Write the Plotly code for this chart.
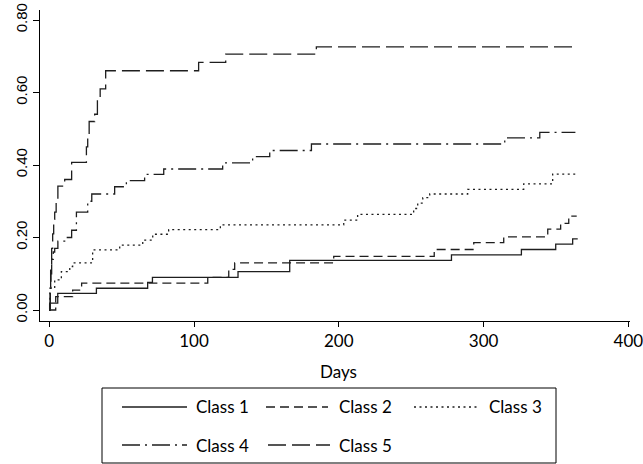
import plotly.graph_objects as go

# ---- data ----
days_c1 = [0, 0.3, 5.9, 32.6, 68.0, 71.3, 130.4, 166.1, 277.8, 326.1, 349.8, 361.5, 365.0]
cif_c1 = [0, 0.019, 0.046, 0.060, 0.076, 0.090, 0.106, 0.137, 0.152, 0.167, 0.182, 0.196, 0.196]

days_c2 = [0, 4.5, 16.2, 22.4, 109.5, 124.0, 128.1, 196.5, 265.9, 293.2, 313.9, 344.3, 353.2, 358.8, 364.3]
cif_c2 = [0, 0.037, 0.055, 0.074, 0.090, 0.112, 0.130, 0.148, 0.167, 0.186, 0.202, 0.223, 0.239, 0.259, 0.259]

days_c3 = [0, 0.5, 3.8, 8.4, 14.2, 16.2, 30.0, 48.7, 64.6, 71.5, 82.5, 118.2, 203.4, 213.0,
           251.7, 254.5, 258.0, 262.8, 289.0, 327.7, 347.7, 365.0]
cif_c3 = [0, 0.060, 0.083, 0.106, 0.120, 0.130, 0.166, 0.179, 0.193, 0.209, 0.222, 0.235, 0.248, 0.264,
          0.280, 0.295, 0.310, 0.320, 0.333, 0.348, 0.375, 0.375]

days_c4 = [0, 0.7, 1.2, 1.7, 2.8, 3.8, 6.0, 11.9, 15.5, 18.8, 26.6, 29.4, 45.2, 53.3, 65.9, 79.1,
           119.8, 140.5, 152.3, 181.1, 314.6, 338.8, 363.4]
cif_c4 = [0, 0.06, 0.10, 0.14, 0.16, 0.17, 0.19, 0.20, 0.22, 0.27, 0.30, 0.32, 0.34, 0.357, 0.374, 0.389,
          0.406, 0.423, 0.440, 0.458, 0.475, 0.490, 0.490]

days_c5 = [0, 0.7, 1.0, 1.7, 2.4, 3.1, 3.8, 4.8, 6.0, 10.7, 15.5, 25.7, 26.6, 27.6, 31.4, 33.3, 35.2,
           39.0, 103.2, 121.9, 184.5, 364.0]
cif_c5 = [0, 0.06, 0.12, 0.17, 0.21, 0.25, 0.27, 0.30, 0.342, 0.36, 0.407, 0.45, 0.48, 0.52, 0.54, 0.58,
          0.61, 0.66, 0.683, 0.706, 0.726, 0.726]

class_names = ["Class 1", "Class 2", "Class 3", "Class 4", "Class 5"]
x_ticks = [0, 100, 200, 300, 400]
y_ticks = [0, 0.2, 0.4, 0.6, 0.8]
y_tick_labels = ["0.00", "0.20", "0.40", "0.60", "0.80"]

series = [(days_c1, cif_c1), (days_c2, cif_c2), (days_c3, cif_c3), (days_c4, cif_c4), (days_c5, cif_c5)]
dashes = ["solid", "9px,5px", "2px,3.5px", "18px,5px,2px,5px", "18px,6px"]
line_color = "#1e1e1e"

fig = go.Figure()
for (xs, ys), name, dash in zip(series, class_names, dashes):
    fig.add_trace(go.Scatter(x=xs, y=ys, mode="lines", name=name, line_shape="hv",
                             line=dict(color=line_color, width=1.3, dash=dash),
                             showlegend=False, hoverinfo="skip"))

W, H = 643, 464
L, R, T, B = 40, 13, 10, 143
pw, ph = W - L - R, H - T - B


def px_x(px):
    return (px - L) / pw


def px_y(py):
    return (H - B - py) / ph


tick_font = dict(family="Liberation Sans Narrow, Lato, sans-serif", size=17, color="black")

fig.update_layout(
    width=W, height=H,
    margin=dict(l=L, r=R, t=T, b=B, autoexpand=False),
    paper_bgcolor="white", plot_bgcolor="white",
    xaxis=dict(range=[-6.35, 401.1], tickvals=x_ticks, ticktext=[str(v) for v in x_ticks],
               showline=True, linecolor="black", linewidth=1, ticks="outside", ticklen=5,
               tickcolor="black", showgrid=False, zeroline=False, tickfont=tick_font,
               automargin=False, ticklabeloverflow="allow"),
    yaxis=dict(range=[-0.0303, 0.8276], tickvals=y_ticks, ticktext=y_tick_labels, tickangle=-90,
               showline=True, linecolor="black", linewidth=1, ticks="outside", ticklen=6,
               tickcolor="black", showgrid=False, zeroline=False, automargin=False,
               ticklabeloverflow="allow",
               tickfont=dict(family="Liberation Sans, Arial, sans-serif", size=15, color="black")),
)

# axis title
fig.add_annotation(text="Days", xref="x", yref="paper", x=200, y=px_y(371), showarrow=False,
                   font=tick_font, xanchor="center", yanchor="middle")

# legend box (drawn manually to match Stata-style layout)
fig.add_shape(type="rect", xref="paper", yref="paper", x0=px_x(102), x1=px_x(556),
              y0=px_y(463), y1=px_y(388), line=dict(color="black", width=1), fillcolor="white")

legend_pos = [(122, 187, 194, 407), (266, 328, 337, 407), (414, 480, 487, 407),
              (122, 187, 194, 445), (268, 330, 337, 445)]
for (lx0, lx1, tx, ty), name, dash in zip(legend_pos, class_names, dashes):
    fig.add_shape(type="line", xref="paper", yref="paper", x0=px_x(lx0), x1=px_x(lx1),
                  y0=px_y(ty), y1=px_y(ty), line=dict(color=line_color, width=1.3, dash=dash))
    fig.add_annotation(text=name, xref="paper", yref="paper", x=px_x(tx), y=px_y(ty),
                       showarrow=False, xanchor="left", yanchor="middle", font=tick_font)

fig.write_html("out.html", config={"displayModeBar": False},
               post_script="document.body.style.margin='0px';document.body.style.padding='0px';")
